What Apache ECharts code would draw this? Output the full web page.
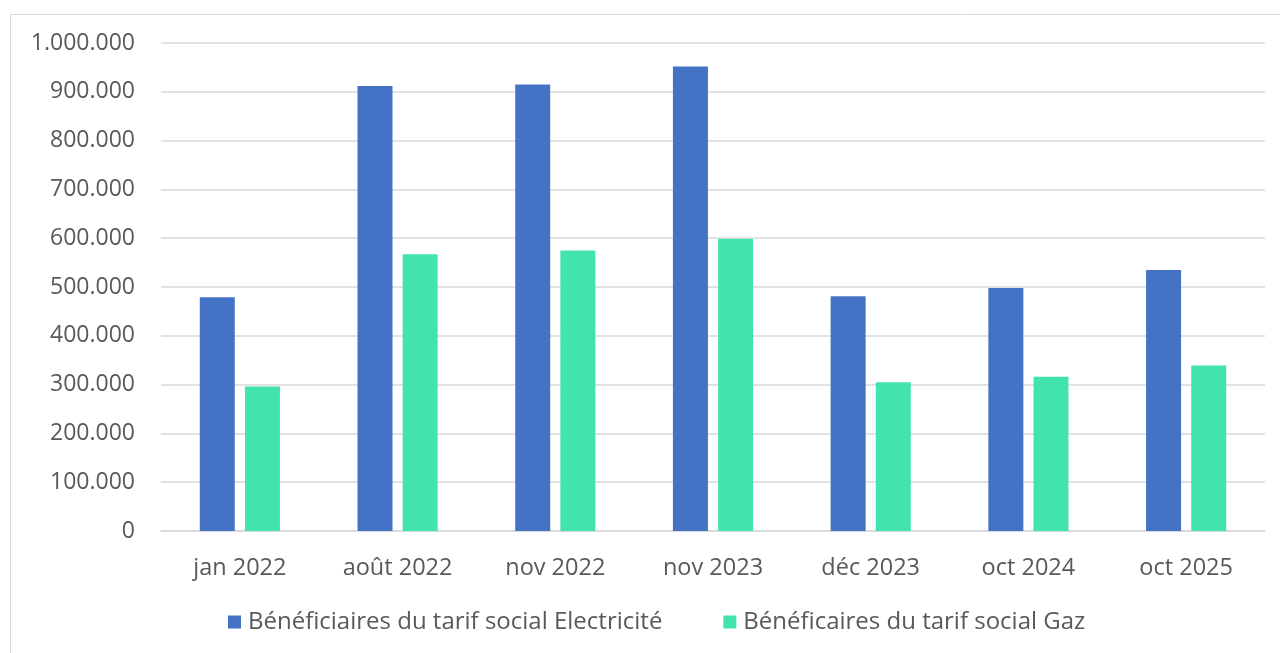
<!DOCTYPE html>
<html>
<head>
<meta charset="utf-8">
<style>
  html, body { margin: 0; padding: 0; background: #fff; }
  #chart { width: 1280px; height: 653px; }
</style>
<script src="https://cdn.jsdelivr.net/npm/echarts@6/dist/echarts.min.js"></script>
</head>
<body>
<div id="chart"></div>
<script>
// Categories (months) and the two beneficiary series
const categories = ['jan 2022', 'août 2022', 'nov 2022', 'nov 2023', 'déc 2023', 'oct 2024', 'oct 2025'];
const electricite = [479000, 912000, 915000, 952000, 481000, 498000, 535000];
const gaz = [296000, 567000, 575000, 599000, 305000, 316000, 339000];
const seriesNames = ['Bénéficiaires du tarif social Electricité', 'Bénéficaires du tarif social Gaz'];

// Format numbers with a dot as thousands separator
function fmt(v) {
  return String(v).replace(/\B(?=(\d{3})+(?!\d))/g, '.');
}

const FONT = '"Open Sans", "Noto Sans", sans-serif';
const TEXT = '#595959';

const chart = echarts.init(document.getElementById('chart'), null, { renderer: 'canvas' });
chart.setOption({
  animation: false,
  backgroundColor: '#ffffff',
  graphic: [{
    type: 'rect',
    shape: { x: 10.5, y: 14.5, width: 1290, height: 660 },
    style: { fill: 'none', stroke: '#d9d9d9', lineWidth: 1 },
    silent: true,
    z: -1
  }],
  grid: { left: 161, right: 15, top: 43, bottom: 122, containLabel: false },
  legend: {
    bottom: 14,
    left: 223,
    itemWidth: 13,
    itemHeight: 13,
    itemGap: 61,
    icon: 'rect',
    textStyle: { fontFamily: FONT, fontSize: 24, color: TEXT, padding: [0, 0, 0, 2] },
    data: seriesNames
  },
  xAxis: {
    type: 'category',
    data: categories,
    axisLine: { lineStyle: { color: '#d9d9d9', width: 1.5 } },
    axisTick: { show: false },
    axisLabel: { fontFamily: FONT, fontSize: 23.5, color: TEXT, margin: 25 }
  },
  yAxis: {
    type: 'value',
    min: 0,
    max: 1000000,
    interval: 100000,
    axisLine: { show: false },
    axisTick: { show: false },
    splitLine: { lineStyle: { color: '#d9d9d9', width: 1.5 } },
    axisLabel: { fontFamily: FONT, fontSize: 23, color: TEXT, margin: 26, formatter: fmt }
  },
  series: [
    {
      name: seriesNames[0],
      type: 'bar',
      data: electricite,
      barWidth: 35,
      barGap: '29%',
      itemStyle: { color: '#4472C4' }
    },
    {
      name: seriesNames[1],
      type: 'bar',
      data: gaz,
      barWidth: 35,
      itemStyle: { color: '#43E3AE' }
    }
  ]
});
</script>
</body>
</html>
